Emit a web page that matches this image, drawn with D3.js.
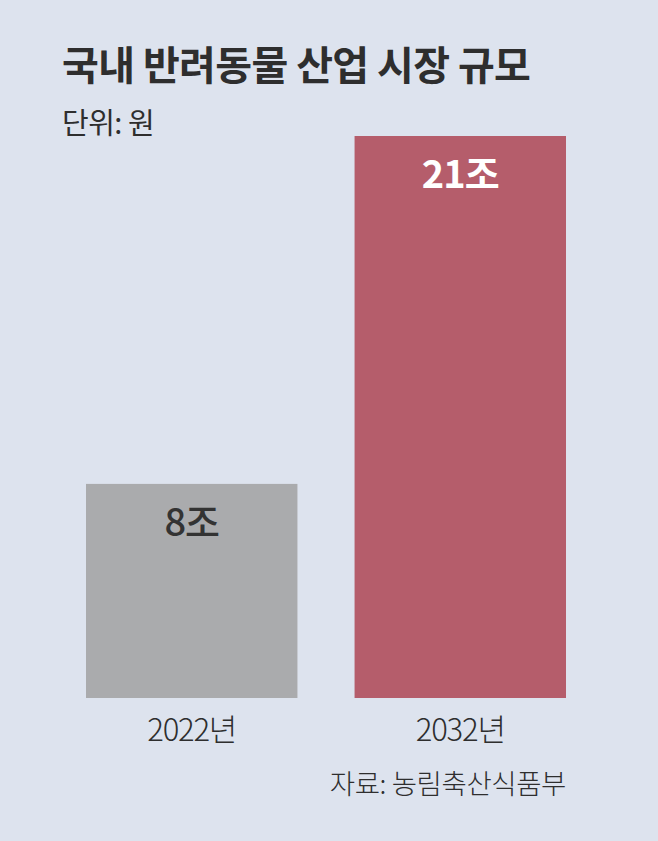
<!DOCTYPE html>
<html><head><meta charset="utf-8">
<script src="https://cdn.jsdelivr.net/npm/d3@7"></script>
<style>
html,body{margin:0;padding:0;background:#dde3ee;}
svg{display:block;font-family:"Noto Sans CJK KR","Noto Sans",sans-serif;}
</style></head>
<body><svg id="c" width="658" height="841"></svg>
<script>
const categories = ["2022년", "2032년"];
const values = [8, 21];
const valueLabels = ["8조", "21조"];
const title = "국내 반려동물 산업 시장 규모";
const unitText = "단위: 원";
const sourceText = "자료: 농림축산식품부";

const svg = d3.select("#c");
svg.append("rect").attr("width",658).attr("height",841).attr("fill","#dde3ee");

const x = d3.scaleBand().domain(categories).range([86,566]).paddingInner(0.2127).paddingOuter(0);
const y = d3.scaleLinear().domain([0,21]).range([698,136]);
const fills = ["#aaabad", "#b55d6b"];
const labelFill = ["#333333", "#ffffff"];

svg.append("text").attr("x",62).attr("y",80).attr("font-size",40).attr("font-weight",700)
  .attr("fill","#2e2e2e").attr("letter-spacing",-0.6).text(title);
svg.append("text").attr("x",62).attr("y",134).attr("font-size",29).attr("font-weight",400)
  .attr("fill","#2e2e2e").attr("letter-spacing",-0.5).text(unitText);

const data = categories.map((c,i)=>({c, v:values[i], l:valueLabels[i], i}));
svg.selectAll("rect.bar").data(data).join("rect").attr("class","bar")
  .attr("x",d=>x(d.c)).attr("width",x.bandwidth())
  .attr("y",d=>y(d.v)).attr("height",d=>y(0)-y(d.v))
  .attr("fill",d=>fills[d.i]);

svg.selectAll("text.vl").data(data).join("text").attr("class","vl")
  .attr("x",d=>x(d.c)+x.bandwidth()/2).attr("y",d=>y(d.v)+52)
  .attr("text-anchor","middle").attr("font-size",38)
  .attr("font-weight",d=>d.i===0?500:700).attr("letter-spacing",-1)
  .attr("fill",d=>labelFill[d.i]).text(d=>d.l);

const xAxis = d3.axisBottom(x).tickSize(0).tickPadding(0);
const gx = svg.append("g").attr("transform","translate(0,698)").call(xAxis);
gx.select(".domain").remove();
gx.selectAll("text").attr("y",43).attr("dy",0).attr("font-size",31).attr("font-weight",300)
  .attr("font-family","\"Noto Sans CJK KR\",sans-serif").attr("fill","#2e2e2e").attr("letter-spacing",-1.2);

svg.append("text").attr("x",566).attr("y",794).attr("text-anchor","end").attr("font-size",27.5)
  .attr("font-weight",300).attr("fill","#2e2e2e").attr("letter-spacing",-0.4).text(sourceText);
</script></body></html>
